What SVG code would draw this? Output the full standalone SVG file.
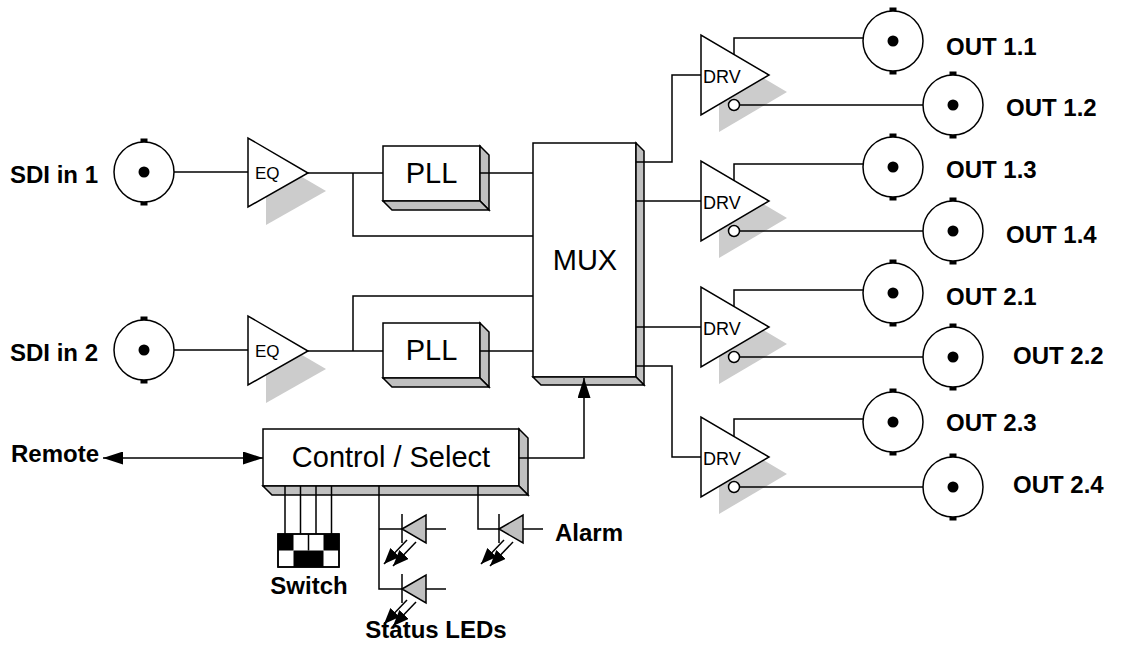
<svg xmlns="http://www.w3.org/2000/svg" xmlns:xlink="http://www.w3.org/1999/xlink" width="1122" height="657" viewBox="0 0 1122 657">
<style>
  .ln{fill:none;stroke:#000;stroke-width:1.5}
  .wf{fill:#fff;stroke:#000;stroke-width:1.5;stroke-linejoin:miter}
  .face{fill:#c0c0c0;stroke:#000;stroke-width:1.5;stroke-linejoin:miter}
  .shadow{fill:#cccccc;stroke:none}
  .lbl{font-family:"Liberation Sans",Arial,sans-serif;font-weight:bold;font-size:24px;fill:#000}
  .big{font-family:"Liberation Sans",Arial,sans-serif;font-size:29px;fill:#000}
  .small{font-family:"Liberation Sans",Arial,sans-serif;font-size:18px;fill:#000}
  .blk{fill:#000;stroke:none}
</style>
<defs>
  <marker id="arr" markerUnits="userSpaceOnUse" markerWidth="20" markerHeight="13" refX="20" refY="6.5" orient="auto-start-reverse">
    <path d="M0,0 L20,6.5 L0,13 z" fill="#000"/>
  </marker>
  <marker id="larr" markerUnits="userSpaceOnUse" markerWidth="16" markerHeight="13" refX="16" refY="6.5" orient="auto">
    <path d="M0,0 L16,6.5 L0,13 z" fill="#000"/>
  </marker>
  <g id="bnc">
    <rect class="blk" x="-3.5" y="-33.5" width="7" height="4"/>
    <rect class="blk" x="-3.5" y="29.5" width="7" height="4"/>
    <circle class="wf" r="30"/>
    <circle class="blk" r="5.5"/>
  </g>
  <g id="led">
    <line class="ln" x1="0" y1="-15" x2="0" y2="14"/>
    <polygon points="0,0 24,-14 24,14" fill="#c0c0c0" stroke="#000" stroke-width="1.5"/>
    <line class="ln" x1="24" y1="0" x2="44" y2="0"/>
    <line class="ln" x1="5" y1="11" x2="-18" y2="35" marker-end="url(#larr)"/>
    <line class="ln" x1="14" y1="13" x2="-9" y2="37" marker-end="url(#larr)"/>
  </g>
</defs>
<rect width="1122" height="657" fill="#fff"/>

<g id="sdi1">
  <use xlink:href="#bnc" href="#bnc" x="144" y="172"/>
  <text class="lbl" x="98" y="183" text-anchor="end">SDI in 1</text>
</g>
<g id="sdi2">
  <use xlink:href="#bnc" href="#bnc" x="144" y="350"/>
  <text class="lbl" x="98" y="361" text-anchor="end">SDI in 2</text>
</g>

<g id="eq1">
  <polygon class="shadow" points="266,156 266,225 326,191"/>
  <polygon class="wf" points="248,138 248,207 308,173"/>
  <text class="small" x="255" y="179" style="font-size:17px">EQ</text>
</g>
<g id="eq2">
  <polygon class="shadow" points="266,334 266,403 326,369"/>
  <polygon class="wf" points="248,316 248,385 308,351"/>
  <text class="small" x="255" y="357" style="font-size:17px">EQ</text>
</g>

<g id="pll1">
  <rect class="wf" x="383" y="146" width="97" height="55"/>
  <polygon class="face" points="480,146 489,155 489,210 480,201"/>
  <polygon class="face" points="383,201 480,201 489,210 392,210"/>
  <text class="big" x="431.5" y="183" text-anchor="middle">PLL</text>
</g>
<g id="pll2">
  <rect class="wf" x="383" y="323" width="97" height="55"/>
  <polygon class="face" points="480,323 489,332 489,387 480,378"/>
  <polygon class="face" points="383,378 480,378 489,387 392,387"/>
  <text class="big" x="431.5" y="360" text-anchor="middle">PLL</text>
</g>

<g id="mux">
  <rect class="wf" x="533" y="143" width="103" height="234"/>
  <polygon class="face" points="636,143 644,151 644,385 636,377"/>
  <polygon class="face" points="533,377 636,377 644,385 541,385"/>
  <text class="big" x="585" y="270" text-anchor="middle">MUX</text>
</g>

<g id="control">
  <rect class="wf" x="263" y="429" width="256" height="57"/>
  <polygon class="face" points="519,429 528,438 528,495 519,486"/>
  <polygon class="face" points="263,486 519,486 528,495 272,495"/>
  <text class="big" x="391" y="467" text-anchor="middle">Control / Select</text>
</g>

<g id="remote">
  <text class="lbl" x="11" y="462">Remote</text>
</g>

<g id="switch">
  <rect x="278" y="534" width="61" height="33" fill="#fff" stroke="#000" stroke-width="1.5"/>
  <rect class="blk" x="278" y="534" width="15.5" height="16.5"/>
  <rect class="blk" x="323.5" y="534" width="15.5" height="16.5"/>
  <rect class="blk" x="293.5" y="550.5" width="30" height="16.5"/>
  <line class="ln" x1="308.5" y1="534" x2="308.5" y2="550.5"/>
  <rect x="278" y="534" width="61" height="33" fill="none" stroke="#000" stroke-width="1.5"/>
  <text class="lbl" x="309" y="594" text-anchor="middle">Switch</text>
</g>

<g id="status-leds">
  <use xlink:href="#led" href="#led" x="402" y="529"/>
  <use xlink:href="#led" href="#led" x="402" y="589"/>
  <text class="lbl" x="436" y="638" text-anchor="middle">Status LEDs</text>
</g>

<g id="alarm">
  <use xlink:href="#led" href="#led" x="499" y="529"/>
  <text class="lbl" x="555" y="541">Alarm</text>
</g>

<g id="drv1">
  <polygon class="shadow" points="719,52 719,132 787,92"/>
  <polygon class="wf" points="701,35 701,115 769,75"/>
  <circle class="wf" cx="734" cy="105" r="5.5"/>
  <text class="small" x="703" y="83">DRV</text>
</g>
<g id="drv2">
  <polygon class="shadow" points="719,178 719,258 787,218"/>
  <polygon class="wf" points="701,161 701,241 769,201"/>
  <circle class="wf" cx="734" cy="231" r="5.5"/>
  <text class="small" x="703" y="209">DRV</text>
</g>
<g id="drv3">
  <polygon class="shadow" points="719,304 719,384 787,344"/>
  <polygon class="wf" points="701,287 701,367 769,327"/>
  <circle class="wf" cx="734" cy="357" r="5.5"/>
  <text class="small" x="703" y="335">DRV</text>
</g>
<g id="drv4">
  <polygon class="shadow" points="719,434 719,514 787,474"/>
  <polygon class="wf" points="701,417 701,497 769,457"/>
  <circle class="wf" cx="734" cy="487" r="5.5"/>
  <text class="small" x="703" y="465">DRV</text>
</g>

<g id="out11"><use xlink:href="#bnc" href="#bnc" x="893" y="41"/><text class="lbl" x="946" y="55">OUT 1.1</text></g>
<g id="out12"><use xlink:href="#bnc" href="#bnc" x="953" y="105"/><text class="lbl" x="1006" y="116">OUT 1.2</text></g>
<g id="out13"><use xlink:href="#bnc" href="#bnc" x="893" y="167"/><text class="lbl" x="946" y="178">OUT 1.3</text></g>
<g id="out14"><use xlink:href="#bnc" href="#bnc" x="953" y="231"/><text class="lbl" x="1006" y="243">OUT 1.4</text></g>
<g id="out21"><use xlink:href="#bnc" href="#bnc" x="893" y="293"/><text class="lbl" x="946" y="305">OUT 2.1</text></g>
<g id="out22"><use xlink:href="#bnc" href="#bnc" x="953" y="357"/><text class="lbl" x="1013" y="364">OUT 2.2</text></g>
<g id="out23"><use xlink:href="#bnc" href="#bnc" x="893" y="422"/><text class="lbl" x="946" y="431">OUT 2.3</text></g>
<g id="out24"><use xlink:href="#bnc" href="#bnc" x="953" y="487"/><text class="lbl" x="1013" y="493">OUT 2.4</text></g>

<g id="connectors">
  <path class="ln" d="M174,172 H248"/>
  <path class="ln" d="M308,173 H383"/>
  <path class="ln" d="M353,173 V236 H533"/>
  <path class="ln" d="M480,173 H533"/>
  <path class="ln" d="M174,350 H248"/>
  <path class="ln" d="M308,351 H383"/>
  <path class="ln" d="M353,351 V296 H533"/>
  <path class="ln" d="M480,351 H533"/>
  <path class="ln" d="M636,162 H672 V75 H701"/>
  <path class="ln" d="M636,201 H701"/>
  <path class="ln" d="M636,327 H701"/>
  <path class="ln" d="M636,366 H672 V457 H701"/>
  <path class="ln" d="M734,55 V38 H863"/>
  <path class="ln" d="M739.5,105 H923"/>
  <path class="ln" d="M734,181 V164 H863"/>
  <path class="ln" d="M739.5,231 H923"/>
  <path class="ln" d="M734,307 V290 H863"/>
  <path class="ln" d="M739.5,357 H923"/>
  <path class="ln" d="M734,437 V419 H863"/>
  <path class="ln" d="M739.5,487 H923"/>
  <path class="ln" d="M519,458 H584 V378" marker-end="url(#arr)"/>
  <path class="ln" d="M103,458 H263" marker-start="url(#arr)" marker-end="url(#arr)"/>
  <path class="ln" d="M285,486 V534 M300.5,486 V534 M316,486 V534 M331.5,486 V534"/>
  <path class="ln" d="M379,486 V589 H402 M379,529 H402"/>
  <path class="ln" d="M478,486 V529 H499"/>
</g>
</svg>
